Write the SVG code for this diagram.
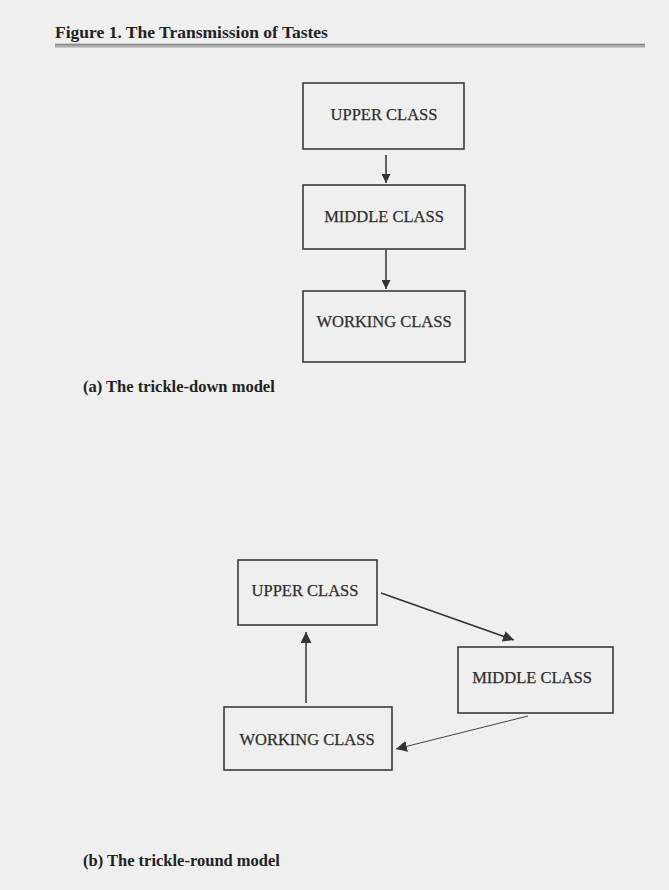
<svg xmlns="http://www.w3.org/2000/svg" width="669" height="890" viewBox="0 0 669 890">
<defs>
<style>
.bg{fill:#efefef}
.box{fill:none;stroke:#3a3a3a;stroke-width:1.6}
.lbl{font-family:"Liberation Serif","Times New Roman",serif;font-size:16.5px;fill:#2e2e2e;stroke:#2e2e2e;stroke-width:0.25;text-anchor:middle}
.cap{font-family:"Liberation Serif","Times New Roman",serif;font-size:16.5px;font-weight:bold;fill:#222}
.ttl{font-size:17.5px}
.edge{stroke:#333;stroke-width:1.5;fill:none}
.thin{stroke:#444;stroke-width:1;fill:none}
</style>
<marker id="ah" viewBox="0 0 10 10" refX="10" refY="5" markerWidth="9" markerHeight="9" markerUnits="userSpaceOnUse" orient="auto">
<path d="M0,0 L10,5 L0,10 z" fill="#333"/>
</marker>
<marker id="ah2" viewBox="0 0 10 10" refX="10" refY="5" markerWidth="11" markerHeight="11" markerUnits="userSpaceOnUse" orient="auto">
<path d="M0,0 L10,5 L0,10 z" fill="#333"/>
</marker>
</defs>
<rect class="bg" x="0" y="0" width="669" height="890"/>
<g id="title">
<text class="cap ttl" x="55" y="38">Figure 1. The Transmission of Tastes</text>
<rect x="55" y="43.5" width="590" height="4" fill="#aaaaaa"/>
<line x1="55" y1="44.5" x2="645" y2="44.5" stroke="#888" stroke-width="1"/>
</g>
<g id="connectors">
<line class="edge" x1="386" y1="155" x2="386" y2="183" marker-end="url(#ah)"/>
<line class="edge" x1="386" y1="250" x2="386" y2="289" marker-end="url(#ah)"/>
<line class="edge" x1="381" y1="593" x2="514" y2="640" marker-end="url(#ah2)"/>
<line class="edge" x1="306" y1="703" x2="306" y2="632" marker-end="url(#ah2)"/>
<line class="thin" x1="528" y1="716" x2="396" y2="749" marker-end="url(#ah2)"/>
</g>
<g id="a-upper">
<rect class="box" x="303" y="83" width="161" height="66"/>
<text class="lbl" x="384" y="120">UPPER CLASS</text>
</g>
<g id="a-middle">
<rect class="box" x="303" y="185" width="162" height="64"/>
<text class="lbl" x="384" y="222">MIDDLE CLASS</text>
</g>
<g id="a-working">
<rect class="box" x="303" y="291" width="162" height="71"/>
<text class="lbl" x="384" y="327">WORKING CLASS</text>
</g>
<g id="caption-a">
<text class="cap" x="83" y="392">(a) The trickle-down model</text>
</g>
<g id="b-upper">
<rect class="box" x="238" y="560" width="139" height="65"/>
<text class="lbl" x="305" y="596">UPPER CLASS</text>
</g>
<g id="b-middle">
<rect class="box" x="458" y="647" width="155" height="66"/>
<text class="lbl" x="532" y="683">MIDDLE CLASS</text>
</g>
<g id="b-working">
<rect class="box" x="224" y="707" width="168" height="63"/>
<text class="lbl" x="307" y="745">WORKING CLASS</text>
</g>
<g id="caption-b">
<text class="cap" x="83" y="866">(b) The trickle-round model</text>
</g>
</svg>
